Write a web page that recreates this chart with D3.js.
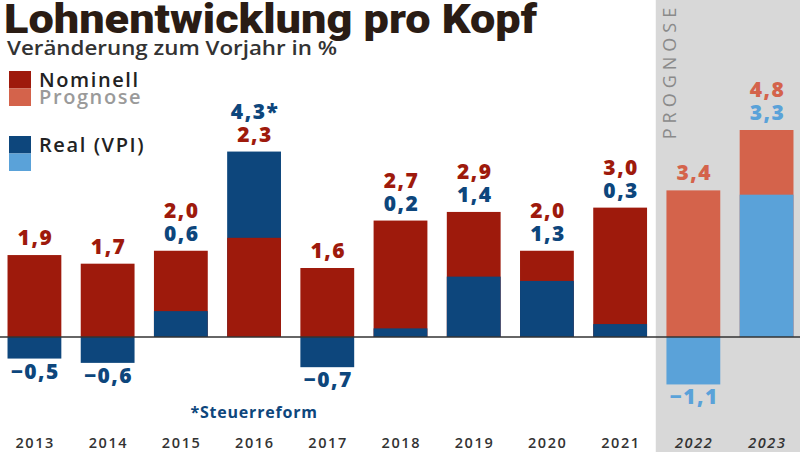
<!DOCTYPE html>
<html><head><meta charset="utf-8">
<script src="https://cdn.jsdelivr.net/npm/d3@7"></script>
<style>body{margin:0;background:#fff}svg{display:block}</style>
</head><body>
<svg id="c" width="800" height="452"></svg>
<script>
const years = ["2013","2014","2015","2016","2017","2018","2019","2020","2021","2022","2023"];
const nominal = [1.9,1.7,2.0,2.3,1.6,2.7,2.9,2.0,3.0,3.4,4.8];
const real = [-0.5,-0.6,0.6,4.3,-0.7,0.2,1.4,1.3,0.3,-1.1,3.3];
const forecast = [false,false,false,false,false,false,false,false,false,true,true];
const realNotes = ["","","","*","","","","","","",""];

const C = {nom:"#9e1a0c", nomF:"#d4634b", real:"#0d467c", realF:"#5aa2d9", band:"#d8d8d8", text:"#2b2b2b"};
const fmt = v => (v<0?"\u2212":"") + Math.abs(v).toFixed(1).replace(".", ",");

const svg = d3.select("#c");
const x = d3.scaleBand().domain(years).range([-2, 803]).paddingInner(0.265).paddingOuter(0.13);
const y = d3.scaleLinear().domain([0, 4.8]).range([337, 130]);

// forecast band
const fYears = years.filter((d,i)=>forecast[i]);
const bandX = x(fYears[0]) - x.step()*x.paddingInner()/2 - 1;
svg.append("rect").attr("x", bandX).attr("y",0).attr("width",800-bandX).attr("height",452).attr("fill",C.band);
svg.append("text").attr("transform",`translate(${bandX+20},71) rotate(-90)`)
  .attr("text-anchor","middle").attr("font-family","Open Sans").attr("font-size",18)
  .attr("letter-spacing",5).attr("fill","#8a8a8a").text("PROGNOSE");

const data = years.map((yr,i)=>({yr, n:nominal[i], r:real[i], f:forecast[i], note:realNotes[i]}));
const g = svg.append("g");
data.forEach(d=>{
  const bars = [{v:d.n, c:d.f?C.nomF:C.nom},{v:d.r, c:d.f?C.realF:C.real}];
  bars.sort((a,b)=>Math.abs(b.v)-Math.abs(a.v));
  bars.forEach(b=>{
    g.append("rect").attr("x",x(d.yr)).attr("width",x.bandwidth())
      .attr("y", y(Math.max(0,b.v))).attr("height", Math.abs(y(b.v)-y(0))).attr("fill", b.c);
  });
});

// baseline
svg.append("line").attr("x1",0).attr("x2",800).attr("y1",y(0)).attr("y2",y(0)).attr("stroke","#333").attr("stroke-width",1.5);

// value labels
const lab = svg.append("g").attr("font-family","Open Sans").attr("font-weight",800).attr("font-size",21)
  .attr("letter-spacing",1.5).attr("text-anchor","middle");
data.forEach(d=>{
  const cx = x(d.yr)+x.bandwidth()/2 + 1;
  const nc = d.f?C.nomF:C.nom, rc = d.f?C.realF:C.real;
  const top = y(Math.max(d.n, d.r, 0));
  const pos = [];
  if (d.r>=0) {
    if (d.r > d.n) { pos.push({t:fmt(d.r)+d.note, c:rc}); pos.push({t:fmt(d.n), c:nc}); }
    else { pos.push({t:fmt(d.n), c:nc}); pos.push({t:fmt(d.r)+d.note, c:rc}); }
    pos.forEach((p,k)=>{
      lab.append("text").attr("x",cx).attr("y", top - 10 - (pos.length-1-k)*23).attr("fill",p.c).text(p.t);
    });
  } else {
    lab.append("text").attr("x",cx).attr("y", top-10).attr("fill",nc).text(fmt(d.n));
    lab.append("text").attr("x",cx).attr("y", y(d.r)+20).attr("fill",rc).text(fmt(d.r));
  }
});

// year axis
const ax = svg.append("g").attr("transform","translate(0,448)")
  .call(d3.axisBottom(x).tickSize(0).tickPadding(0));
ax.select(".domain").remove();
ax.selectAll("text").attr("font-family","Open Sans").attr("font-size",14.5).attr("font-weight",600)
  .attr("letter-spacing",1.6).attr("fill","#333").attr("dy","0").attr("dx","0.8")
  .attr("font-style", d=>forecast[years.indexOf(d)]?"italic":"normal");

// title
svg.append("text").attr("x",4).attr("y",33).attr("font-family","Roboto").attr("font-weight",900)
  .attr("font-size",40).attr("fill","#2a1c14").attr("textLength",533).attr("lengthAdjust","spacingAndGlyphs")
  .text("Lohnentwicklung pro Kopf");
svg.append("text").attr("x",7).attr("y",55).attr("font-family","Open Sans").attr("font-weight",600)
  .attr("font-size",19).attr("fill","#333").attr("textLength",330).attr("lengthAdjust","spacingAndGlyphs")
  .text("Veränderung zum Vorjahr in %");

// legend
const leg = [
  {y:71, c1:C.nom, c2:C.nomF, t1:"Nominell", t2:"Prognose"},
  {y:136, c1:C.real, c2:C.realF, t1:"Real (VPI)", t2:""}
];
leg.forEach(l=>{
  svg.append("rect").attr("x",9).attr("y",l.y).attr("width",22).attr("height",17.5).attr("fill",l.c1);
  svg.append("rect").attr("x",9).attr("y",l.y+17.5).attr("width",22).attr("height",17.5).attr("fill",l.c2);
  svg.append("text").attr("x",39).attr("y",l.y+16).attr("font-family","Open Sans").attr("font-weight",600)
    .attr("font-size",20).attr("letter-spacing",1.6).attr("fill","#222").text(l.t1);
  if (l.t2) svg.append("text").attr("x",39).attr("y",l.y+33).attr("font-family","Open Sans").attr("font-weight",600)
    .attr("font-size",20).attr("letter-spacing",1.6).attr("fill","#9a9a9a").text(l.t2);
});

// footnote
svg.append("text").attr("x",x("2016")+x.bandwidth()/2).attr("y",418).attr("text-anchor","middle")
  .attr("font-family","Open Sans").attr("font-weight",700).attr("font-size",16).attr("letter-spacing",0.8)
  .attr("fill",C.real).text("*Steuerreform");
</script>
</body></html>
